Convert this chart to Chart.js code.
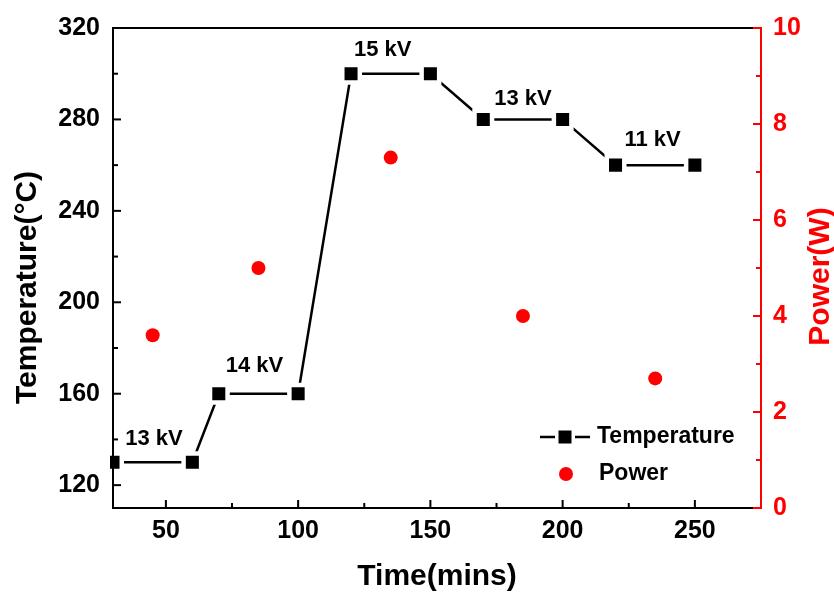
<!DOCTYPE html>
<html>
<head>
<meta charset="utf-8">
<title>Temperature and power vs time</title>
<script src="https://cdn.jsdelivr.net/npm/chart.js@4.4.1/dist/chart.umd.min.js"></script>
<style>
  html, body { margin: 0; padding: 0; background: #fff; }
  #wrap { width: 834px; height: 596px; position: relative; }
</style>
</head>
<body>
<div id="wrap"><canvas id="chart"></canvas></div>
<script>
// temperature, stepped by the applied voltage
const tempTime = [30, 60, 70, 100, 120, 150, 170, 200, 220, 250];
const tempValue = [130, 130, 160, 160, 300, 300, 280, 280, 260, 260];

// power, one reading per voltage step
const powerTime = [45, 85, 135, 185, 235];
const powerValue = [3.6, 5.0, 7.3, 4.0, 2.7];

// voltage labels, anchored in (time, temperature)
const voltText = ["13 kV", "14 kV", "15 kV", "13 kV", "11 kV"];
const voltTime = [45.5, 83.5, 132, 185, 234];
const voltTemp = [140, 172, 310.5, 289, 271];

// axis ticks
const xTicks = [50, 100, 150, 200, 250];
const xMinor = [75, 125, 175, 225];
const yTicks = [120, 160, 200, 240, 280, 320];
const yMinor = [140, 180, 220, 260, 300];
const y1Ticks = [0, 2, 4, 6, 8, 10];
const y1Minor = [1, 3, 5, 7, 9];

const FONT = '"Liberation Sans", Arial, Helvetica, sans-serif';
const RED = "#ff0000";

// frame, inward ticks, voltage labels, legend and axis titles
const decorations = {
    id: "decorations",
    afterDatasetsDraw(chart) {
        const { ctx, chartArea: a, scales } = chart;
        ctx.save();
        ctx.lineWidth = 2;

        // black frame (left, top, bottom)
        ctx.strokeStyle = "#000";
        ctx.beginPath();
        ctx.moveTo(a.right, a.top);
        ctx.lineTo(a.left, a.top);
        ctx.lineTo(a.left, a.bottom);
        ctx.lineTo(a.right, a.bottom);
        ctx.stroke();

        const tick = (x1, y1, x2, y2) => {
            ctx.beginPath();
            ctx.moveTo(x1, y1);
            ctx.lineTo(x2, y2);
            ctx.stroke();
        };

        xTicks.forEach(v => { const p = scales.x.getPixelForValue(v); tick(p, a.bottom, p, a.bottom - 8); });
        xMinor.forEach(v => { const p = scales.x.getPixelForValue(v); tick(p, a.bottom, p, a.bottom - 5); });
        yTicks.forEach(v => { const p = scales.y.getPixelForValue(v); tick(a.left, p, a.left + 8, p); });
        yMinor.forEach(v => { const p = scales.y.getPixelForValue(v); tick(a.left, p, a.left + 5, p); });

        // red right axis
        ctx.strokeStyle = RED;
        tick(a.right, a.top - 1, a.right, a.bottom + 1);
        y1Ticks.forEach(v => { const p = scales.y1.getPixelForValue(v); tick(a.right, p, a.right - 8, p); });
        y1Minor.forEach(v => { const p = scales.y1.getPixelForValue(v); tick(a.right, p, a.right - 5, p); });

        // voltage labels
        ctx.fillStyle = "#000";
        ctx.font = `bold 22px ${FONT}`;
        ctx.textAlign = "center";
        ctx.textBaseline = "middle";
        voltText.forEach((t, i) => {
            ctx.fillText(t, scales.x.getPixelForValue(voltTime[i]), scales.y.getPixelForValue(voltTemp[i]));
        });

        // legend
        const lx = 540, ly1 = 437, ly2 = 474;
        ctx.strokeStyle = "#000";
        ctx.lineWidth = 2.5;
        tick(lx, ly1, lx + 15, ly1);
        tick(lx + 35, ly1, lx + 50, ly1);
        ctx.fillRect(lx + 18.5, ly1 - 6.5, 13, 13);
        ctx.fillStyle = RED;
        ctx.beginPath();
        ctx.arc(lx + 26, ly2, 7, 0, Math.PI * 2);
        ctx.fill();
        ctx.fillStyle = "#000";
        ctx.textAlign = "left";
        ctx.font = `bold 23px ${FONT}`;
        ctx.fillText("Temperature", lx + 57, ly1);
        ctx.fillText("Power", lx + 59, ly2);

        // axis titles
        ctx.font = `bold 30px ${FONT}`;
        ctx.textAlign = "center";
        ctx.textBaseline = "alphabetic";
        ctx.fillText("Time(mins)", (a.left + a.right) / 2, 585);

        ctx.save();
        ctx.translate(36, 287.5);
        ctx.rotate(-Math.PI / 2);
        ctx.fillText("Temperature(°C)", 0, 0);
        ctx.restore();

        ctx.save();
        ctx.fillStyle = RED;
        ctx.translate(829, 276.5);
        ctx.rotate(-Math.PI / 2);
        ctx.fillText("Power(W)", 0, 0);
        ctx.restore();

        ctx.restore();
    }
};

const tickFont = { family: FONT, size: 25, weight: "bold" };

new Chart(document.getElementById("chart"), {
    type: "line",
    data: {
        datasets: [
            {
                label: "Temperature",
                data: tempTime.map((t, i) => ({ x: t, y: tempValue[i] })),
                yAxisID: "y",
                borderColor: "#000",
                borderWidth: 2.5,
                pointStyle: "rect",
                pointRadius: 12.4,
                pointBackgroundColor: "#000",
                pointBorderColor: "#fff",
                pointBorderWidth: 4.5,
                tension: 0,
                clip: 3
            },
            {
                label: "Power",
                data: powerTime.map((t, i) => ({ x: t, y: powerValue[i] })),
                yAxisID: "y1",
                showLine: false,
                pointStyle: "circle",
                pointRadius: 7,
                pointBackgroundColor: RED,
                pointBorderColor: RED,
                pointBorderWidth: 0
            }
        ]
    },
    options: {
        responsive: true,
        maintainAspectRatio: false,
        animation: false,
        events: [],
        layout: { autoPadding: false, padding: { top: 28, left: 0, right: 0, bottom: 0 } },
        plugins: {
            legend: { display: false },
            tooltip: { enabled: false }
        },
        scales: {
            x: {
                type: "linear",
                min: 30,
                max: 275,
                afterFit: s => { s.height = 88; },
                afterBuildTicks: s => { s.ticks = xTicks.map(v => ({ value: v })); },
                grid: { display: false, drawTicks: false },
                border: { display: false },
                ticks: { color: "#000", font: tickFont, padding: 8, autoSkip: false, maxRotation: 0 }
            },
            y: {
                type: "linear",
                position: "left",
                min: 110,
                max: 320,
                afterFit: s => { s.width = 113; },
                afterBuildTicks: s => { s.ticks = yTicks.map(v => ({ value: v })); },
                grid: { display: false, drawTicks: false },
                border: { display: false },
                ticks: { color: "#000", font: tickFont, padding: 13, autoSkip: false }
            },
            y1: {
                type: "linear",
                position: "right",
                min: 0,
                max: 10,
                afterFit: s => { s.width = 73; },
                afterBuildTicks: s => { s.ticks = y1Ticks.map(v => ({ value: v })); },
                grid: { display: false, drawTicks: false },
                border: { display: false },
                ticks: { color: RED, font: tickFont, padding: 12, autoSkip: false }
            }
        }
    },
    plugins: [decorations]
});
</script>
</body>
</html>
